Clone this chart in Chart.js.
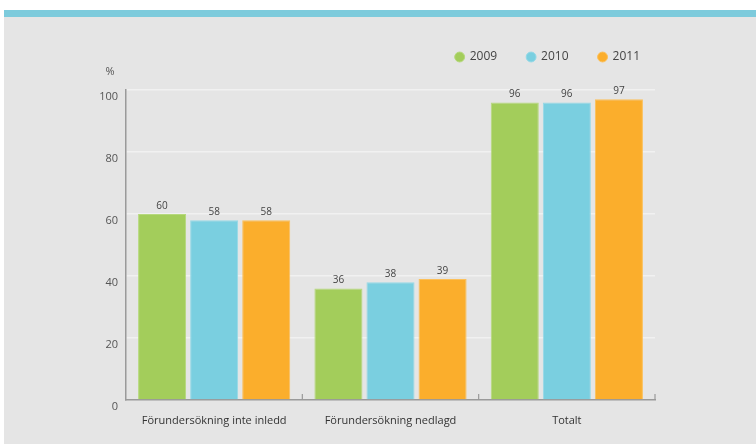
<!DOCTYPE html>
<html>
<head>
<meta charset="utf-8">
<script src="https://cdn.jsdelivr.net/npm/chart.js@4"></script>
<style>
  html, body { margin: 0; padding: 0; background: #fff; }
  #wrap { width: 756px; height: 444px; }
</style>
</head>
<body>
<div id="wrap"><canvas id="chart"></canvas></div>
<script>
const categories = ['Förundersökning inte inledd', 'Förundersökning nedlagd', 'Totalt'];
const years = ['2009', '2010', '2011'];
const values2009 = [60, 36, 96];
const values2010 = [58, 38, 96];
const values2011 = [58, 39, 97];
const yTicks = [0, 20, 40, 60, 80, 100];
const colors = ['#a3cd5b', '#7acfe0', '#fbae2c'];
const borders = ['#b6d97c', '#95d9e7', '#fcc05a'];

// bakgrund + blå kant upptill
const backdrop = {
    id: 'backdrop',
    beforeDraw(chart) {
        const c = chart.ctx;
        c.save();
        c.fillStyle = '#ffffff';
        c.fillRect(0, 0, chart.width, chart.height);
        c.fillStyle = '#e5e5e5';
        c.fillRect(4, 16, chart.width - 4, chart.height - 16);
        c.fillStyle = '#7dcbdc';
        c.fillRect(4, 10, chart.width - 4, 7);
        c.restore();
    }
};

// mer luft under legenden
const legendSpace = {
    id: 'legendSpace',
    beforeInit(chart) {
        const fit = chart.legend.fit;
        chart.legend.fit = function () {
            fit.call(this);
            this.height += 17;
        };
    },
    afterLayout(chart) {
        chart.legend.left += 15;
        chart.legend.right += 15;
    }
};

// värden ovanför staplarna, %-etikett och små streck på x-axeln
const extras = {
    id: 'extras',
    afterDatasetsDraw(chart) {
        const c = chart.ctx;
        c.save();
        c.font = '10px "Open Sans"';
        c.fillStyle = '#444';
        c.textAlign = 'center';
        c.textBaseline = 'bottom';
        chart.data.datasets.forEach((ds, i) => {
            chart.getDatasetMeta(i).data.forEach((bar, j) => {
                c.fillText(ds.data[j], bar.x, bar.y - 3);
            });
        });
        c.font = '11px "Open Sans"';
        c.fillStyle = '#555';
        c.textBaseline = 'middle';
        c.fillText('%', 110, 72);

        const x = chart.scales.x;
        const bottom = chart.chartArea.bottom;
        c.strokeStyle = '#999';
        c.lineWidth = 1.2;
        for (let i = 0; i < categories.length; i++) {
            const edge = i < categories.length - 1
                ? (x.getPixelForValue(i) + x.getPixelForValue(i + 1)) / 2
                : chart.chartArea.right;
            c.beginPath();
            c.moveTo(edge, bottom - 6);
            c.lineTo(edge, bottom);
            c.stroke();
        }
        c.restore();
    }
};

const series = [values2009, values2010, values2011];

new Chart(document.getElementById('chart'), {
    type: 'bar',
    data: {
        labels: categories,
        datasets: years.map((y, i) => ({
            label: y,
            data: series[i],
            backgroundColor: colors[i],
            borderColor: borders[i],
            borderWidth: 1,
            categoryPercentage: 0.886,
            barPercentage: 0.923
        }))
    },
    options: {
        responsive: true,
        maintainAspectRatio: false,
        animation: false,
        layout: { padding: { top: 21, right: 101, left: 0, bottom: 0 } },
        scales: {
            x: {
                grid: { display: false, drawTicks: false },
                border: { color: '#9a9a9a', width: 1.5 },
                ticks: { color: '#333', padding: 14, font: { family: 'Open Sans', size: 11 } },
                afterFit(scale) { scale.height = 44; }
            },
            y: {
                min: 0,
                max: 100,
                afterBuildTicks(scale) { scale.ticks = yTicks.map(v => ({ value: v })); },
                grid: {
                    color: ctx => ctx.tick && ctx.tick.value === 0 ? 'rgba(0,0,0,0)' : 'rgba(255,255,255,0.45)',
                    lineWidth: 1.5,
                    drawTicks: false
                },
                border: { color: '#9a9a9a', width: 1.5 },
                ticks: { color: '#555', padding: 8, labelOffset: 7, font: { family: 'Open Sans', size: 11 } },
                afterFit(scale) { scale.width = 126; }
            }
        },
        plugins: {
            legend: {
                position: 'top',
                align: 'end',
                labels: {
                    usePointStyle: true,
                    pointStyle: 'circle',
                    boxWidth: 8,
                    boxHeight: 7,
                    padding: 30,
                    color: '#444',
                    font: { family: 'Open Sans', size: 12 }
                }
            },
            tooltip: { enabled: false }
        }
    },
    plugins: [backdrop, legendSpace, extras]
});
</script>
</body>
</html>
